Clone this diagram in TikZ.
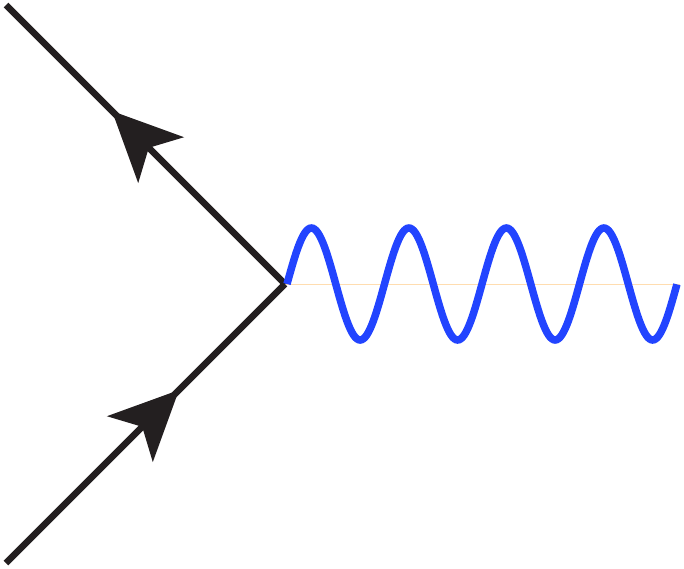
\documentclass[tikz,border=0pt]{standalone}
\usetikzlibrary{arrows.meta,decorations.markings}
\definecolor{fermion}{HTML}{231F20}
\definecolor{photon}{HTML}{2244FF}
\definecolor{axisline}{HTML}{FFDDB0}
\begin{document}
\begin{tikzpicture}[x=1pt,y=-1pt,
  fermionline/.style={draw=fermion,line width=6.5pt},
  fermionarrow/.style={postaction={decorate,decoration={markings,
     mark=at position #1 with {\arrow[fermion]{Stealth[length=69pt,width=64pt,inset=17pt]}}}}},
  photonline/.style={draw=photon,line width=7.5pt},
  guide/.style={draw=axisline,line width=0.8pt}]
\useasboundingbox (0,0) rectangle (684,568);
\coordinate (v) at (285,284);
\coordinate (a) at (6,5);
\coordinate (b) at (6,563);
\coordinate (e) at (680,284);
\draw[guide] (v) -- (e);
\draw[fermionline,fermionarrow=0.62] (v) -- (a);
\draw[fermionline,fermionarrow=0.62] (b) -- (v);
\draw[photonline] plot[domain=0:4,samples=241,smooth] ({287+97.5*\x},{284-56*sin(360*\x)});
\end{tikzpicture}
\end{document}
